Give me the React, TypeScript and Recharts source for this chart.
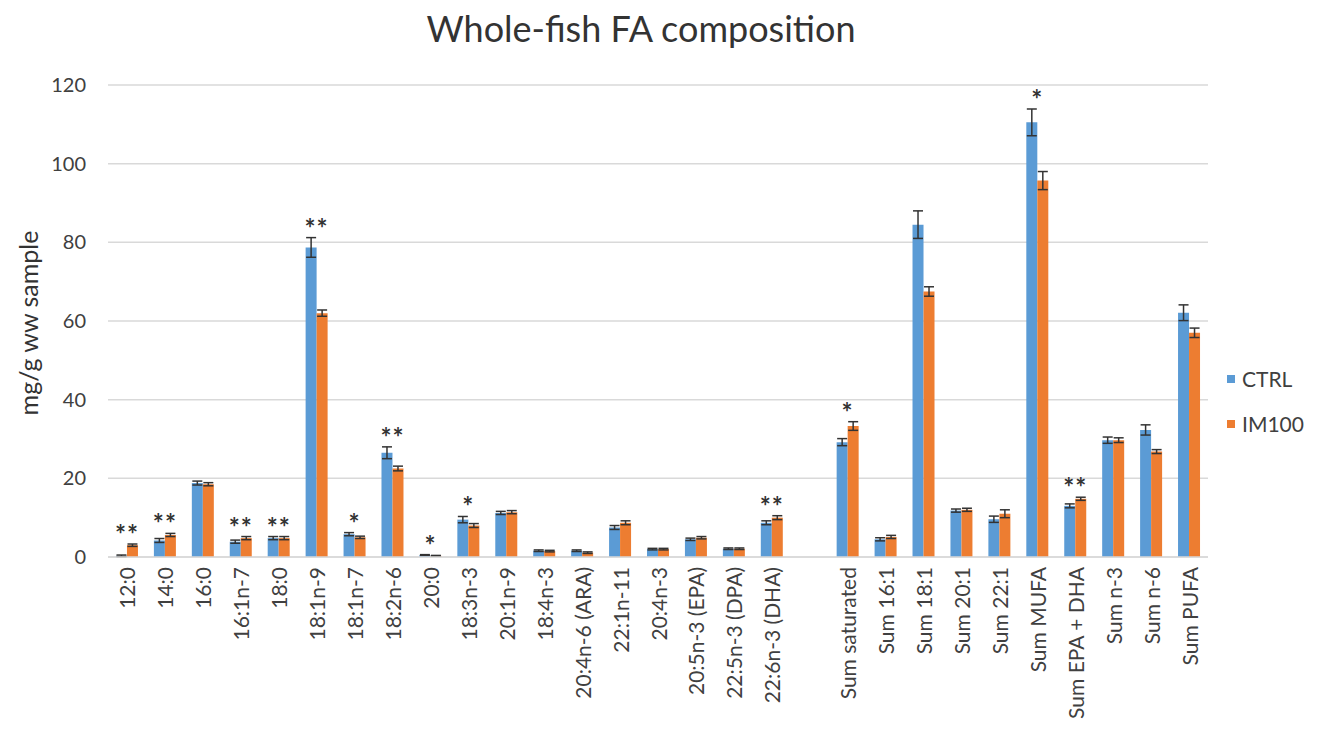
import {
  ComposedChart,
  Bar,
  ErrorBar,
  Scatter,
  XAxis,
  YAxis,
  CartesianGrid,
} from "recharts";

const categories = [
  "12:0", "14:0", "16:0", "16:1n-7", "18:0", "18:1n-9", "18:1n-7", "18:2n-6",
  "20:0", "18:3n-3", "20:1n-9", "18:4n-3", "20:4n-6 (ARA)", "22:1n-11",
  "20:4n-3", "20:5n-3 (EPA)", "22:5n-3 (DPA)", "22:6n-3 (DHA)", "",
  "Sum saturated", "Sum 16:1", "Sum 18:1", "Sum 20:1", "Sum 22:1",
  "Sum MUFA", "Sum EPA + DHA", "Sum n-3", "Sum n-6", "Sum PUFA",
];

const ctrl = [
  0.3, 4.2, 18.8, 3.9, 4.8, 78.7, 5.8, 26.5, 0.5, 9.5, 11.2, 1.6, 1.6, 7.5,
  2.0, 4.5, 2.1, 8.7, null, 29.2, 4.5, 84.5, 11.8, 9.6, 110.5, 13.0, 29.7,
  32.3, 62.1,
];
const ctrlErr = [
  0.2, 0.5, 0.5, 0.4, 0.4, 2.5, 0.4, 1.5, 0.1, 0.8, 0.4, 0.2, 0.2, 0.5,
  0.2, 0.3, 0.2, 0.5, null, 0.9, 0.4, 3.5, 0.4, 0.8, 3.4, 0.5, 0.8, 1.3, 2.0,
];

const im100 = [
  3.0, 5.6, 18.5, 4.8, 4.8, 62.0, 5.0, 22.5, 0.3, 8.0, 11.4, 1.5, 1.1, 8.7,
  2.0, 4.9, 2.1, 10.0, null, 33.3, 5.1, 67.5, 12.0, 11.0, 95.7, 14.8, 29.7,
  26.8, 57.0,
];
const im100Err = [
  0.3, 0.4, 0.4, 0.4, 0.4, 0.8, 0.3, 0.6, 0.1, 0.5, 0.4, 0.2, 0.2, 0.5,
  0.2, 0.3, 0.2, 0.5, null, 1.1, 0.4, 1.2, 0.4, 1.0, 2.3, 0.4, 0.6, 0.5, 1.2,
];

const significance = [
  "**", "**", "", "**", "**", "**", "*", "**", "*", "*", "", "", "", "",
  "", "", "", "**", "", "*", "", "", "", "", "*", "**", "", "", "",
];

const yTicks = [0, 20, 40, 60, 80, 100, 120];

const BLUE = "#5b9bd5";
const ORANGE = "#ed7d31";
const FONT = "Lato, 'Open Sans', sans-serif";

const data = categories.map((name, i) => {
  const c = ctrl[i];
  const m = im100[i];
  const top =
    c == null || m == null
      ? null
      : Math.max(c + (ctrlErr[i] ?? 0), m + (im100Err[i] ?? 0));
  return {
    name,
    ctrl: c,
    ctrlErr: ctrlErr[i],
    im100: m,
    im100Err: im100Err[i],
    sig: significance[i],
    starY: significance[i] ? top : null,
  };
});

function XTick(props: any) {
  const { x, y, payload } = props;
  return (
    <text
      x={x}
      y={y}
      transform={`rotate(-90 ${x} ${y})`}
      textAnchor="end"
      dominantBaseline="central"
      fontSize={21}
      fontFamily={FONT}
      fill="#404040"
    >
      {payload.value}
    </text>
  );
}

function StarShape(props: any) {
  const { cx, cy, payload } = props;
  if (!payload || !payload.sig || cy == null || isNaN(cy)) return <g />;
  return (
    <text
      x={cx}
      y={cy}
      textAnchor="middle"
      fontSize={26}
      fontWeight={700}
      fontFamily={FONT}
      fill="#333333"
      letterSpacing={1}
    >
      {payload.sig}
    </text>
  );
}

export default function App() {
  return (
    <div
      style={{
        position: "absolute",
        left: 0,
        top: 0,
        width: 1327,
        height: 729,
        background: "#ffffff",
        fontFamily: FONT,
      }}
    >
      <div
        style={{
          position: "absolute",
          left: 0,
          width: 1282,
          top: 6,
          textAlign: "center",
          fontSize: 36,
          color: "#333333",
        }}
      >
        Whole-fish FA composition
      </div>

      <div
        style={{
          position: "absolute",
          left: 28,
          top: 323,
          transform: "translate(-50%, -50%) rotate(-90deg)",
          fontSize: 25,
          color: "#333333",
          whiteSpace: "nowrap",
        }}
      >
        mg/g ww sample
      </div>

      <ComposedChart
        width={1327}
        height={729}
        data={data}
        margin={{ top: 85, right: 119, bottom: 0, left: 48 }}
        barCategoryGap="21%"
        barGap={0}
        style={{ position: "absolute", left: 0, top: 0 }}
      >
        <CartesianGrid vertical={false} stroke="#d9d9d9" strokeWidth={1.5} />
        <XAxis
          dataKey="name"
          interval={0}
          tick={<XTick />}
          tickLine={false}
          axisLine={{ stroke: "#d9d9d9", strokeWidth: 1.5 }}
          height={172}
          tickMargin={4}
        />
        <YAxis
          domain={[0, 120]}
          ticks={yTicks}
          width={60}
          axisLine={false}
          tickLine={false}
          tickMargin={16}
          tick={{ fontSize: 20, fill: "#404040", fontFamily: FONT }}
        />
        <Bar dataKey="ctrl" fill={BLUE} isAnimationActive={false}>
          <ErrorBar
            dataKey="ctrlErr"
            width={5}
            strokeWidth={1.5}
            stroke="#333333"
            direction="y"
          />
        </Bar>
        <Bar dataKey="im100" fill={ORANGE} isAnimationActive={false}>
          <ErrorBar
            dataKey="im100Err"
            width={5}
            strokeWidth={1.5}
            stroke="#333333"
            direction="y"
          />
        </Bar>
        <Scatter
          dataKey="starY"
          shape={<StarShape />}
          isAnimationActive={false}
        />
      </ComposedChart>

      <div
        style={{
          position: "absolute",
          left: 1227,
          top: 365,
          fontSize: 21,
          color: "#404040",
          lineHeight: "28px",
        }}
      >
        <div style={{ display: "flex", alignItems: "center", gap: 7 }}>
          <span style={{ width: 8, height: 8, background: BLUE }} />
          CTRL
        </div>
        <div
          style={{ display: "flex", alignItems: "center", gap: 7, marginTop: 17 }}
        >
          <span style={{ width: 8, height: 8, background: ORANGE }} />
          IM100
        </div>
      </div>
    </div>
  );
}
